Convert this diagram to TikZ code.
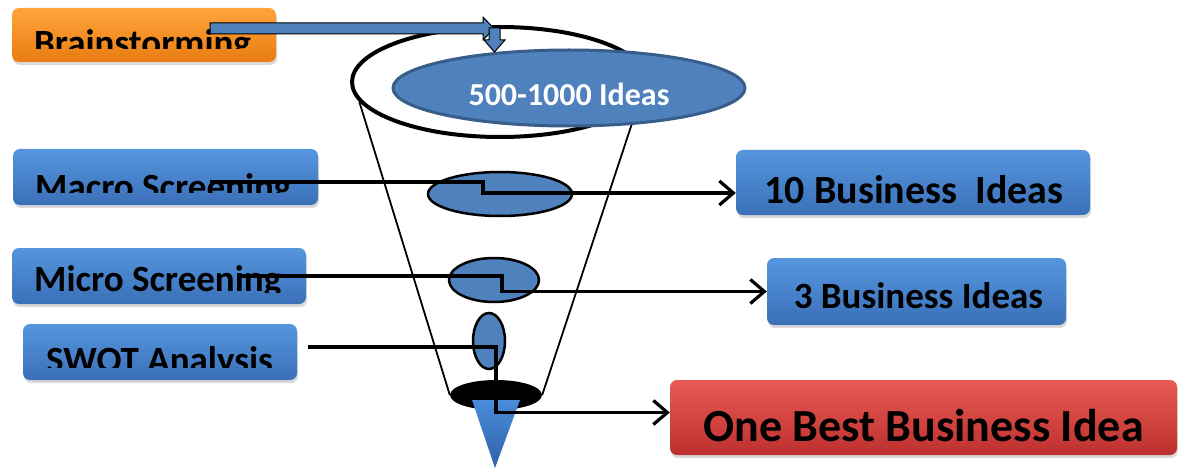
\documentclass[tikz,border=0pt]{standalone}
\usepackage{fontspec}
\setmainfont{Carlito}
\usetikzlibrary{shapes.geometric,shadows,arrows.meta,calc}

\definecolor{ideablue}{HTML}{4F81BD}
\definecolor{rimblue}{HTML}{385D8A}
\definecolor{boxbluetop}{HTML}{5596DE}
\definecolor{boxbluebot}{HTML}{3A70B8}
\definecolor{orangetop}{HTML}{FFA53C}
\definecolor{orangebot}{HTML}{E87C12}
\definecolor{redtop}{HTML}{E85A55}
\definecolor{redbot}{HTML}{BE302D}
\definecolor{tiptop}{HTML}{4A8BDB}
\definecolor{tipbot}{HTML}{2E62A6}

\tikzset{
  stagebox/.style={rounded corners=7pt, inner sep=0pt,
    drop shadow={shadow xshift=1pt, shadow yshift=-3pt, opacity=.3}},
  bluebox/.style={stagebox, top color=boxbluetop, bottom color=boxbluebot},
  pod/.style={ellipse, inner sep=0pt, fill=ideablue, draw=black, line width=2.5pt},
  stagetext/.style={inner sep=0pt, anchor=base west, font=\fontsize{37}{40}\selectfont\bfseries},
  conn/.style={line width=3.2pt, -{Straight Barb[length=14pt,width=24pt]}},
  funnel/.style={line width=1.8pt}
}

\begin{document}
\begin{tikzpicture}[x=1pt,y=-1pt]
    \useasboundingbox (0,0) rectangle (1178,468);
    % the funnel
    \node[ellipse, draw, line width=4pt, minimum width=296pt, minimum height=110pt, inner sep=0pt] (rim) at (500,82) {};
    \node[ellipse, fill=black, minimum width=92pt, minimum height=30pt, inner sep=0pt] (cup) at (496,395) {};
    \draw[funnel] (rim.188) -- (cup.west);
    \draw[funnel] (rim.351) -- (cup.east);
    \shade[top color=tiptop, bottom color=tipbot] (472,400) -- (520,400) -- (495,468) -- cycle;
    \node[ellipse, fill=ideablue, draw=rimblue, line width=3pt, minimum width=352pt, minimum height=76pt, inner sep=0pt] (ideas) at (569,88) {};
    \node[text=white, font=\fontsize{32}{34}\selectfont\bfseries] (ideaslbl) at ($(ideas)+(0,6)$) {500-1000 Ideas};
    \node[pod, minimum width=144pt, minimum height=44pt] (macell) at (500,194) {};
    \node[pod, minimum width=90pt, minimum height=44pt] (micell) at (494,280) {};
    \node[pod, minimum width=32pt, minimum height=56pt] (swell) at (489,341) {};

    % stages on the left
    \node[stagebox, top color=orangetop, bottom color=orangebot, minimum width=264pt, minimum height=54pt] (brain) at (144,35) {};
    \node[bluebox, minimum width=305pt, minimum height=56pt] (macro) at (165.5,177) {};
    \node[bluebox, minimum width=294pt, minimum height=56pt] (micro) at (159,276) {};
    \node[bluebox, minimum width=274pt, minimum height=56pt] (swot) at (160,352) {};
    \begin{scope}
        \clip (brain.north west) rectangle (brain.east |- 0,49);
        \node[stagetext] (brainlbl) at (34,56) {Brainstorming};
    \end{scope}
    \begin{scope}
        \clip (macro.north west) rectangle (macro.east |- 0,192);
        \node[stagetext] (macrolbl) at (35,199) {Macro Screening};
    \end{scope}
    \begin{scope}
        \clip (micro.north west) rectangle (micro.east |- 0,292);
        \node[stagetext] (microlbl) at (34,291) {Micro Screening};
    \end{scope}
    \begin{scope}
        \clip (swot.north west) rectangle (swot.east |- 0,367);
        \node[stagetext] (swotlbl) at (46,372) {SWOT Analysis};
    \end{scope}

    % results on the right
    \node[bluebox, minimum width=354pt, minimum height=65pt] (ten) at (913,182.5) {};
    \node[font=\fontsize{40}{44}\selectfont\bfseries] (tenlbl) at ($(ten)+(1,7)$) {10 Business\ \ Ideas};
    \node[bluebox, minimum width=299pt, minimum height=67pt] (three) at (916.5,291.5) {};
    \node[font=\fontsize{37}{40}\selectfont\bfseries] (threelbl) at ($(three)+(2,4)$) {3 Business Ideas};
    \node[stagebox, top color=redtop, bottom color=redbot, minimum width=507pt, minimum height=75pt] (best) at (923.5,417.5) {};
    \node[font=\fontsize{46}{50}\selectfont\bfseries] (bestlbl) at ($(best)+(0,8)$) {One Best Business Idea};

    % block arrow into the funnel
    \draw[fill=ideablue, line width=1pt] (210,23) -- (483,23) -- (483,17) -- (494,28.5) -- (483,40) -- (483,34) -- (210,34) -- cycle;
    \draw[fill=ideablue, line width=1pt] (489,28) -- (500,28) -- (500,40) -- (505,40) -- (494.5,52) -- (484,40) -- (489,40) -- cycle;

    % connectors
    \draw[conn] ($(macro.east)+(-108,5)$) -| ($(macell.center)+(-17,-1)$) -- ($(ten.west)+(0,10.5)$);
    \draw[conn] ($(micro.east)+(-66,0)$) -| ($(micell.center |- three.west)+(8,0)$) -- (three.west);
    \draw[conn] ($(swot.east)+(11,-5)$) -| ($(swell.center |- best.west)+(7,-5)$) -- ($(best.west)+(0,-5)$);
\end{tikzpicture}
\end{document}
